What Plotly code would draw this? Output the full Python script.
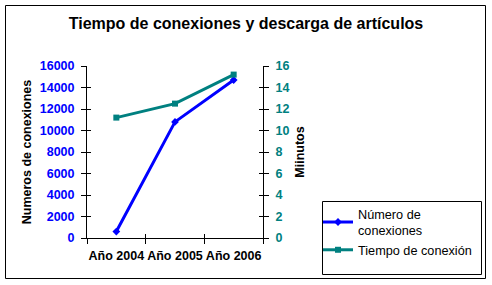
import plotly.graph_objects as go

years = ["Año 2004", "Año 2005", "Año 2006"]
conexiones = [600, 10800, 14700]
tiempo = [11.2, 12.5, 15.2]

BLUE = "#0000FF"
TEAL = "#008080"
FONT = "Liberation Sans, Arial, sans-serif"
FS = 12.5

W, H = 492, 285
L, R, T, B = 87, 263, 66, 238

fig = go.Figure()
fig.add_trace(go.Scatter(
    x=years, y=conexiones, name="Número de<br>conexiones", mode="lines+markers",
    line=dict(color=BLUE, width=3), marker=dict(symbol="diamond", size=6, color=BLUE),
    xaxis="x", yaxis="y"))
fig.add_trace(go.Scatter(
    x=years, y=tiempo, name="Tiempo de conexión", mode="lines+markers",
    line=dict(color=TEAL, width=3), marker=dict(symbol="square", size=6, color=TEAL),
    xaxis="x", yaxis="y2"))
# invisible helper traces so the inner-tick overlay axes are drawn
fig.add_trace(go.Scatter(x=years, y=conexiones, xaxis="x2", yaxis="y3", mode="lines",
                         line=dict(width=0), opacity=0, showlegend=False, hoverinfo="skip"))
fig.add_trace(go.Scatter(x=years, y=tiempo, xaxis="x2", yaxis="y4", mode="lines",
                         line=dict(width=0), opacity=0, showlegend=False, hoverinfo="skip"))

pw, ph = R - L, B - T
def px(x):
    return (x - L) / pw
def py(y):
    return (B - y) / ph

inner = dict(showline=False, ticks="inside", ticklen=4, tickcolor="black", showgrid=False,
             zeroline=False, showticklabels=False)

fig.update_layout(
    width=W, height=H,
    margin=dict(l=L, r=W - R, t=T, b=H - B, autoexpand=False),
    paper_bgcolor="white", plot_bgcolor="white",
    font=dict(family=FONT, size=FS, color="black"),
    title=dict(text="<b>Tiempo de conexiones y descarga de artículos</b>",
               x=0.5, xanchor="center", y=1 - 23 / H, yanchor="middle",
               font=dict(size=16, color="black", family=FONT)),
    xaxis=dict(type="category", tickson="boundaries", showline=True, linecolor="black",
               linewidth=1, ticks="outside", ticklen=5, tickcolor="black", tickangle=0,
               showgrid=False, zeroline=False, range=[-0.5, 2.5], ticklabelstandoff=6,
               tickfont=dict(size=FS, color="black", family=FONT), tickprefix="<b>", ticksuffix="</b>"),
    xaxis2=dict(type="category", tickson="boundaries", overlaying="x", range=[-0.5, 2.5],
                categoryorder="array", categoryarray=years, **inner),
    yaxis=dict(range=[0, 16000], dtick=2000, tickformat="d", showline=True, linecolor="black", linewidth=1,
               ticks="outside", ticklen=5, tickcolor="black", showgrid=False, zeroline=False,
               ticklabelstandoff=4,
               tickfont=dict(size=FS, color=BLUE, family=FONT), tickprefix="<b>", ticksuffix="</b>",
               title=dict(text="<b>Numeros de conexiones</b>", standoff=5,
                          font=dict(size=FS, color="black", family=FONT))),
    yaxis2=dict(range=[0, 16], dtick=2, overlaying="y", side="right", showline=True,
                linecolor="black", linewidth=1, ticks="outside", ticklen=5, tickcolor="black",
                showgrid=False, zeroline=False, ticklabelstandoff=4,
                tickfont=dict(size=FS, color=TEAL, family=FONT), tickprefix="<b>", ticksuffix="</b>",
                title=dict(text="<b>Miinutos</b>", standoff=6,
                           font=dict(size=FS, color="black", family=FONT))),
    yaxis3=dict(range=[0, 16000], dtick=2000, overlaying="y", side="left", **inner),
    yaxis4=dict(range=[0, 16], dtick=2, overlaying="y", side="right", **inner),
    showlegend=True,
    legend=dict(x=px(318), y=py(199), xanchor="left", yanchor="top",
                bgcolor="rgba(0,0,0,0)", borderwidth=0,
                font=dict(size=12.7, color="black", family=FONT),
                tracegroupgap=3, itemwidth=30),
    shapes=[
        dict(type="rect", xref="paper", yref="paper", x0=px(5.5), x1=px(485.5),
             y0=py(278.5), y1=py(5.5), line=dict(color="black", width=1)),
        dict(type="rect", xref="paper", yref="paper", x0=px(322.5), x1=px(481.5),
             y0=py(274.5), y1=py(201.5), line=dict(color="black", width=1)),
    ],
)

fig.write_html("out.html")
